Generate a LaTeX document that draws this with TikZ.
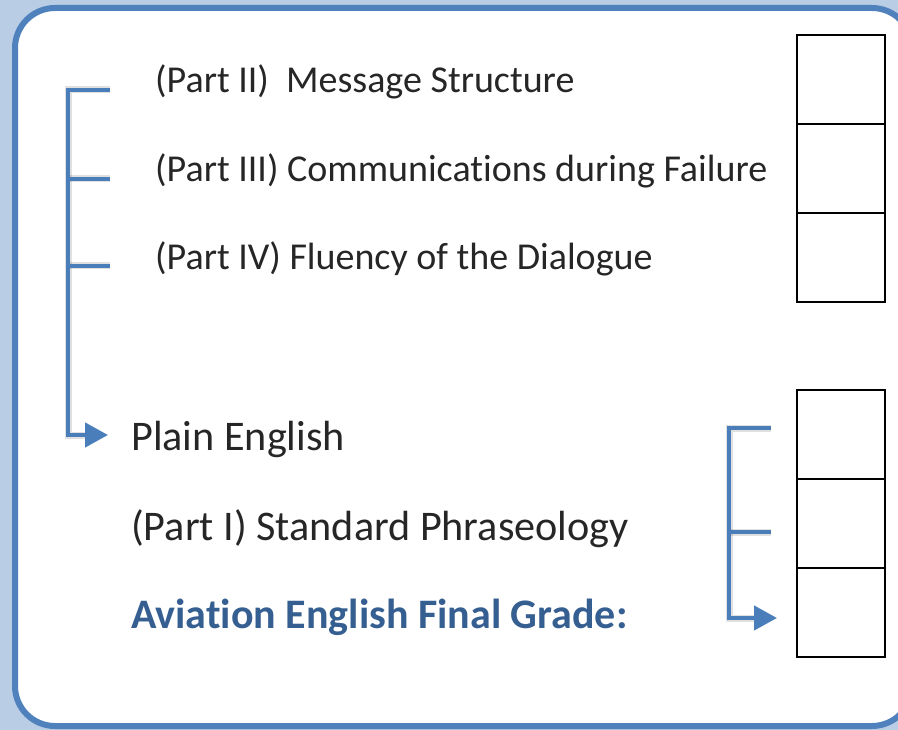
\documentclass[tikz,border=0pt]{standalone}
\usepackage{fontspec}
\setmainfont{Carlito}[Ligatures=NoCommon]
\usetikzlibrary{arrows.meta}
\definecolor{bgblue}{RGB}{185,205,229}
\definecolor{frameblue}{RGB}{79,129,189}
\definecolor{linkblue}{RGB}{74,126,187}
\definecolor{gradeblue}{RGB}{54,95,145}
\tikzset{
  cell/.style={draw=black,line width=1.6pt,minimum width=88pt,minimum height=89pt,inner sep=0pt,anchor=north west},
  toptext/.style={anchor=base west,inner sep=0pt,font=\fontsize{38}{41}\selectfont,text=black!85},
  bottext/.style={anchor=base west,inner sep=0pt,font=\fontsize{42.2}{46}\selectfont,text=black!85},
  link/.style={draw=linkblue,line width=4.5pt},
  linkshadow/.style={draw=black,opacity=0.12,line width=7pt},
  tip/.style={-{Triangle[length=23pt,width=24pt]}},
}
\begin{document}
\begin{tikzpicture}[x=1pt,y=-1pt]
\useasboundingbox (0,0) rectangle (898,730);
\clip (0,0) rectangle (898,730);
\fill[bgblue] (0,0) rectangle (898,730);
\draw[frameblue,line width=6pt,fill=white,rounded corners=40pt] (15,8) rectangle (912,726);

% texts
\node[toptext] (t2) at (155,93) {(Part II)\ \ Message Structure};
\node[toptext] (t3) at (155,182) {(Part III) Communications during Failure};
\node[toptext] (t4) at (155,270) {(Part IV) Fluency of the Dialogue};
\node[bottext] (pe) at (131,450) {Plain English};
\node[bottext] (p1) at (131,540) {(Part I) Standard Phraseology};
\node[bottext,font=\fontsize{42}{46}\selectfont\bfseries,text=gradeblue] (fg) at (131,628) {Aviation English Final Grade:};

% cells
\node[cell] (a1) at (796,34) {};
\node[cell] (a2) at (796,123) {};
\node[cell] (a3) at (796,212) {};
\node[cell] (b1) at (796,389) {};
\node[cell] (b2) at (796,478) {};
\node[cell] (b3) at (796,567) {};

% left bracket coordinates
\coordinate (l1) at (110,90);
\coordinate (l2) at (110,179);
\coordinate (l3) at (110,266);
\coordinate (lc) at (68,90);
\coordinate (lt) at (108,435);
% right bracket coordinates
\coordinate (r1) at (771,428);
\coordinate (r2) at (771,532);
\coordinate (rc) at (729,428);
\coordinate (rt) at (777,618);

% shadows
\begin{scope}[shift={(3,4)}]
\draw[linkshadow] (l1) -- (lc) |- ([xshift=-20pt]lt);
\draw[linkshadow] (l2) -- (l2 -| lc);
\draw[linkshadow] (l3) -- (l3 -| lc);
\draw[linkshadow] (r1) -- (rc) |- ([xshift=-20pt]rt);
\draw[linkshadow] (r2) -- (r2 -| rc);
\end{scope}

% connectors
\draw[link,tip] (l1) -- (lc) |- (lt);
\draw[link] (l2) -- (l2 -| lc);
\draw[link] (l3) -- (l3 -| lc);
\draw[link,tip] (r1) -- (rc) |- (rt);
\draw[link] (r2) -- (r2 -| rc);
\end{tikzpicture}
\end{document}
